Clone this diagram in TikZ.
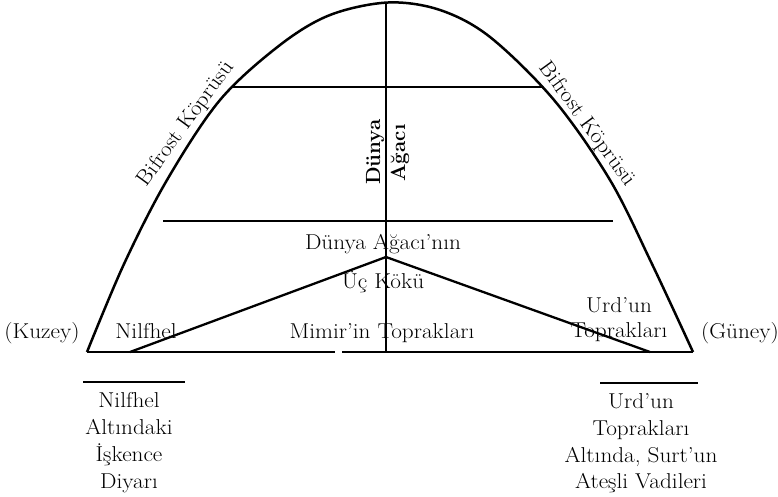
\documentclass[tikz,border=0pt]{standalone}
\newcommand\wx[1]{\scalebox{1.08}[1]{#1}}
\begin{document}
\begin{tikzpicture}[x=1pt,y=-1pt,
  lbl/.style={font=\fontsize{21.5}{25}\selectfont, inner sep=0pt, anchor=base},
  blbl/.style={font=\fontsize{20.5}{25}\selectfont\bfseries, inner sep=0pt, anchor=base, rotate=90},
  arch/.style={line width=2.5pt, line join=round},
  bar/.style={line width=1.8pt},
  root/.style={line width=2.3pt, line cap=round}]
\useasboundingbox (0,0) rectangle (778,496);
% key points
\coordinate (L) at (87,352);
\coordinate (R) at (693,352);
\coordinate (T) at (386,3);
\coordinate (B) at (386,352);
\coordinate (A) at (386,257);
\coordinate (rl) at (130,352);
\coordinate (rr) at (650,352);
\coordinate (h1l) at (233,87);
\coordinate (h1r) at (542,87);
\coordinate (h2l) at (163,221);
\coordinate (h2r) at (613,221);
\coordinate (g1) at (335,352);
\coordinate (g2) at (342,352);
\coordinate (bl1) at (83,382);
\coordinate (bl2) at (185,382);
\coordinate (br1) at (600,383);
\coordinate (br2) at (698,383);
% arch (Bifrost)
\draw[arch] plot[smooth, tension=0.55] coordinates {(87,352) (124,264) (167,180) (220,100) (280,45) (330,15) (388,2.5) (440,10) (490,37) (554,100) (610,180) (652,264) (693,352)};
% ground line
\draw[bar] (L) -- (g1);
\draw[bar] (g2) -- (R);
% tree trunk
\draw[bar] (T) -- (B);
% horizontal levels
\draw[bar] (h1l) -- (h1r);
\draw[bar] (h2l) -- (h2r);
% roots
\draw[root] (rl) -- (A) -- (rr);
% bottom short lines
\draw[bar] (bl1) -- (bl2);
\draw[bar] (br1) -- (br2);
% labels
\node[lbl, anchor=center, rotate=54] (bifl) at (186,124) {\wx{Bifrost Köprüsü}};
\node[lbl, anchor=center, rotate=-54] (bifr) at (587,124) {\wx{Bifrost Köprüsü}};
\node[blbl] (dunya) at (380,152) {Dünya};
\node[blbl] (agaci) at (405,153) {Ağacı};
\node[lbl] (kok1) at (383,249) {\wx{Dünya Ağacı’nın}};
\node[lbl] (kok2) at (383,288) {\wx{Üç Kökü}};
\node[lbl] (kuzey) at (42,338) {\wx{(Kuzey)}};
\node[lbl] (guney) at (740,338) {\wx{(Güney)}};
\node[lbl] (nilf) at (146,338) {\wx{Nilfhel}};
\node[lbl] (mimir) at (382,338) {\wx{Mimir’in Toprakları}};
\node[lbl] (urd1) at (619,312) {\wx{Urd’un}};
\node[lbl] (urd2) at (619,337) {\wx{Toprakları}};
\node[lbl] (n1) at (129,407) {\wx{Nilfhel}};
\node[lbl] (n2) at (129,434) {\wx{Altındaki}};
\node[lbl] (n3) at (129,461) {\wx{İşkence}};
\node[lbl] (n4) at (129,488) {\wx{Diyarı}};
\node[lbl] (u1) at (641,408) {\wx{Urd’un}};
\node[lbl] (u2) at (641,435) {\wx{Toprakları}};
\node[lbl] (u3) at (641,462) {\wx{Altında, Surt’un}};
\node[lbl] (u4) at (641,488) {\wx{Ateşli Vadileri}};
\end{tikzpicture}
\end{document}
